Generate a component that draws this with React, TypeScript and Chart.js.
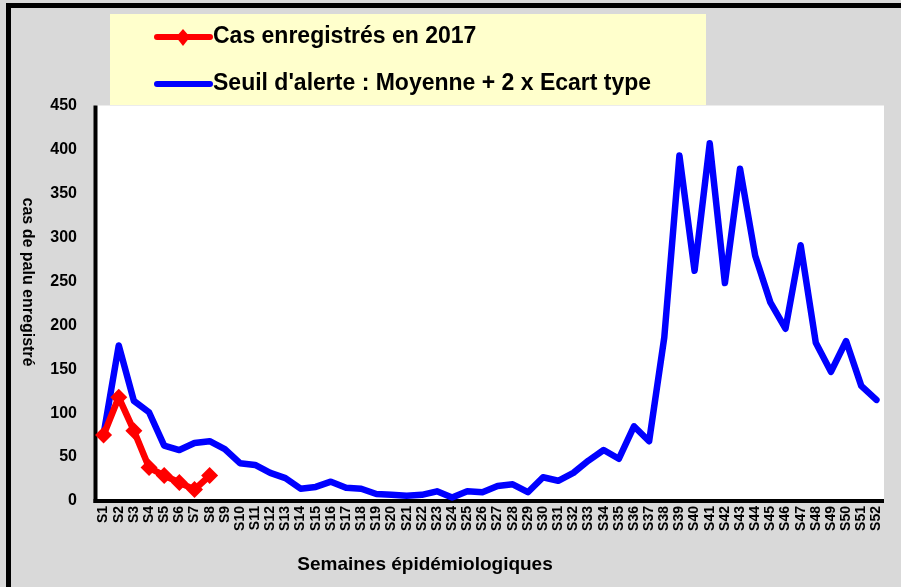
import React, { useEffect, useRef } from "react";
import { Chart, registerables } from "chart.js";

Chart.register(...registerables);

const weeks = [
  "S1", "S2", "S3", "S4", "S5", "S6", "S7", "S8", "S9", "S10",
  "S11", "S12", "S13", "S14", "S15", "S16", "S17", "S18", "S19", "S20",
  "S21", "S22", "S23", "S24", "S25", "S26", "S27", "S28", "S29", "S30",
  "S31", "S32", "S33", "S34", "S35", "S36", "S37", "S38", "S39", "S40",
  "S41", "S42", "S43", "S44", "S45", "S46", "S47", "S48", "S49", "S50",
  "S51", "S52",
];

const cas2017 = [75, 118, 80, 38, 29, 21, 13, 29];

const seuilAlerte = [
  76, 177, 114, 101, 63, 58, 66, 68, 59, 43,
  41, 32, 26, 14, 16, 22, 15, 14, 8, 7,
  6, 7, 11, 4, 11, 10, 17, 19, 10, 27,
  23, 32, 46, 58, 48, 85, 68, 186, 393, 262,
  407, 248, 378, 279, 226, 196, 291, 180, 147, 182,
  131, 115,
];

const yTicks = [0, 50, 100, 150, 200, 250, 300, 350, 400, 450];

const labelCas = "Cas enregistrés en 2017";
const labelSeuil = "Seuil d'alerte : Moyenne + 2 x Ecart type";
const titleX = "Semaines épidémiologiques";
const titleY = "cas de palu enregistré";

const SANS = '"Liberation Sans", Arial, sans-serif';
const RED = "#ff0000";
const BLUE = "#0000ff";

const decor = {
  id: "decor",
  beforeDraw(chart: any) {
    const { ctx, chartArea: a, width, height } = chart;
    ctx.save();
    ctx.fillStyle = "#d9d9d9";
    ctx.fillRect(0, 0, width, height);
    ctx.fillStyle = "#000";
    ctx.fillRect(6, 3, 5, height);
    ctx.fillRect(6, 3, width, 5);
    ctx.fillStyle = "#ffffff";
    ctx.fillRect(a.left, a.top, a.right - a.left, a.bottom - a.top);
    ctx.fillStyle = "#000";
    ctx.fillRect(a.left - 2.5, a.top, 4, a.bottom - a.top + 2);
    ctx.fillRect(a.left - 2.5, a.bottom - 2, a.right - a.left + 2.5, 4);

    ctx.fillStyle = "#000";
    ctx.font = `bold 19px ${SANS}`;
    ctx.textAlign = "center";
    ctx.textBaseline = "middle";
    ctx.fillText(titleX, 425, 565);

    ctx.save();
    ctx.translate(27, 282);
    ctx.rotate(Math.PI / 2);
    ctx.font = `bold 16px ${SANS}`;
    ctx.fillText(titleY, 0, 0);
    ctx.restore();
    ctx.restore();
  },
  afterDraw(chart: any) {
    const { ctx } = chart;
    ctx.save();
    ctx.fillStyle = "#ffffcc";
    ctx.fillRect(110, 14, 596, 91);

    ctx.lineCap = "round";
    ctx.lineWidth = 6;
    ctx.strokeStyle = RED;
    ctx.beginPath();
    ctx.moveTo(157, 37);
    ctx.lineTo(210, 37);
    ctx.stroke();
    ctx.fillStyle = RED;
    ctx.beginPath();
    ctx.moveTo(183, 29);
    ctx.lineTo(190, 37);
    ctx.lineTo(183, 46);
    ctx.lineTo(176, 37);
    ctx.closePath();
    ctx.fill();

    ctx.strokeStyle = BLUE;
    ctx.beginPath();
    ctx.moveTo(157, 84);
    ctx.lineTo(210, 84);
    ctx.stroke();

    ctx.fillStyle = "#000";
    ctx.font = `bold 23px ${SANS}`;
    ctx.textAlign = "left";
    ctx.textBaseline = "middle";
    ctx.fillText(labelCas, 213, 37);
    ctx.fillText(labelSeuil, 213, 84);
    ctx.restore();
  },
};

export default function App() {
  const ref = useRef<HTMLCanvasElement | null>(null);

  useEffect(() => {
    document.body.style.margin = "0";
    const canvas = ref.current;
    if (!canvas) return;
    const chart = new Chart(canvas, {
      type: "line",
      data: {
        labels: weeks,
        datasets: [
          {
            label: labelCas,
            data: cas2017,
            borderColor: RED,
            backgroundColor: RED,
            borderWidth: 6.5,
            pointStyle: "rectRot",
            pointRadius: 8.5,
            pointBorderWidth: 0,
            pointBackgroundColor: RED,
            borderJoinStyle: "round",
            borderCapStyle: "round",
            tension: 0,
          },
          {
            label: labelSeuil,
            data: seuilAlerte,
            borderColor: BLUE,
            backgroundColor: BLUE,
            borderWidth: 6.5,
            pointRadius: 0,
            borderJoinStyle: "round",
            borderCapStyle: "round",
            tension: 0,
          },
        ],
      },
      options: {
        responsive: false,
        animation: false,
        devicePixelRatio: 1,
        layout: { padding: { left: 0, top: 105.5, right: 17, bottom: 0 } },
        plugins: {
          legend: { display: false },
          tooltip: { enabled: false },
        },
        scales: {
          x: {
            offset: true,
            grid: { display: false, drawTicks: false },
            border: { display: false },
            ticks: {
              autoSkip: false,
              maxRotation: 90,
              minRotation: 90,
              padding: 5,
              color: "#000",
              font: { family: SANS, size: 14, weight: "bold" },
            },
            afterFit: (scale: any) => {
              scale.height = 86;
            },
          },
          y: {
            min: 0,
            max: 450,
            afterBuildTicks: (scale: any) => {
              scale.ticks = yTicks.map((v) => ({ value: v }));
            },
            grid: { display: false, drawTicks: false },
            border: { display: false },
            ticks: {
              padding: 19,
              color: "#000",
              font: { family: SANS, size: 16, weight: "bold" },
            },
            afterFit: (scale: any) => {
              scale.width = 96;
            },
          },
        },
      },
      plugins: [decor],
    });
    return () => chart.destroy();
  }, []);

  return (
    <div style={{ position: "fixed", left: 0, top: 0, width: 901, height: 587 }}>
      <canvas ref={ref} width={901} height={587} style={{ display: "block" }} />
    </div>
  );
}
